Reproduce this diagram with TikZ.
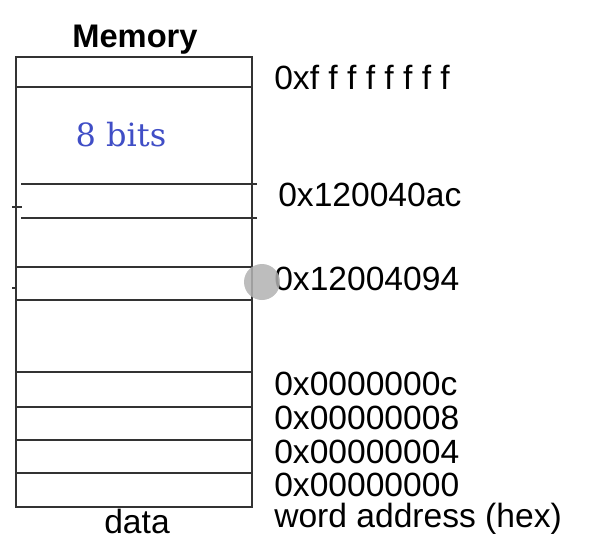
\documentclass[tikz,border=0pt]{standalone}
\usepackage{fontspec}
\setmainfont{Liberation Sans}
\newfontfamily\bitsfont{DejaVu Serif}
\usetikzlibrary{positioning}
\definecolor{bitblue}{RGB}{64,78,198}

\begin{document}
\begin{tikzpicture}[x=0.75pt,y=-0.75pt,
    addr/.style={anchor=base west,inner sep=0pt,font=\fontsize{25.2}{28}\selectfont},
    row/.style={line width=1.5pt,draw=black!80}]
    \useasboundingbox (0,0) rectangle (598,547);
    \node[anchor=base,inner sep=0pt,font=\fontsize{24.5}{28}\selectfont\bfseries] (title) at (135,47) {Memory};
    % memory column
    \draw[row] (16,57) rectangle (252,507);
    \draw[row] (16,87) -- (252,87);
    \draw[row] (21,184) -- (257,184);
    \draw[row] (21,218) -- (257,218);
    \draw[row] (16,267) -- (252,267);
    \draw[row] (16,300) -- (252,300);
    \draw[row] (16,372) -- (252,372);
    \draw[row] (16,407) -- (252,407);
    \draw[row] (16,440) -- (252,440);
    \draw[row] (16,473) -- (252,473);
    \draw[row] (12,207) -- (22,207);
    \draw[row] (12,288) -- (16,288);
    \node[anchor=base,inner sep=0pt,text=bitblue,font=\bitsfont\fontsize{24}{28}\selectfont] (bits) at (121,146) {8 bits};
    % addresses
    \node[addr] (top) at (274,89) {0xf f f f f f f f};
    \node[addr] (ac) at (278,206) {0x120040ac};
    \node[addr] (n94) at (274,290) {0x12004094};
    \node[addr] (c) at (274,395) {0x0000000c};
    \node[addr] (n8) at (274,429) {0x00000008};
    \node[addr] (n4) at (274,463) {0x00000004};
    \node[addr] (n0) at (274,496) {0x00000000};
    \node[addr] (word) at (274,527) {word address (hex)};
    \node[addr,anchor=base] (data) at (137,533) {data};
    \fill[gray!60,fill opacity=0.85] (262,282) circle (18);
\end{tikzpicture}
\end{document}
